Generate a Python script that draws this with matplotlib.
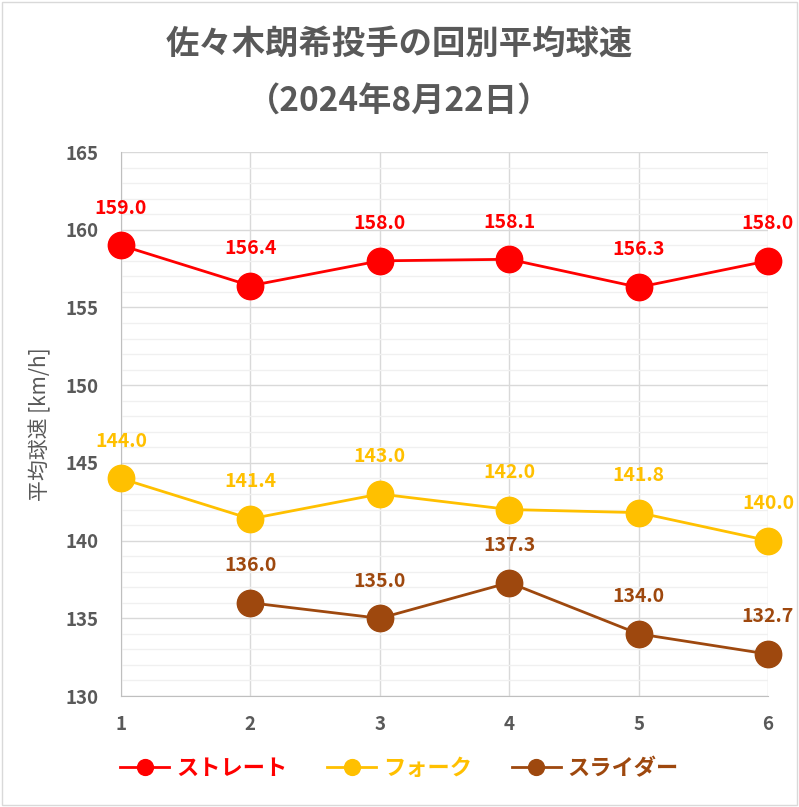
import matplotlib
matplotlib.use('Agg')
import matplotlib.pyplot as plt
from matplotlib.ticker import MultipleLocator
from matplotlib.patches import Rectangle

plt.rcParams['font.family'] = ['Noto Sans CJK JP', 'DejaVu Sans']

innings = [1, 2, 3, 4, 5, 6]
straight = [159.0, 156.4, 158.0, 158.1, 156.3, 158.0]
fork = [144.0, 141.4, 143.0, 142.0, 141.8, 140.0]
slider = [None, 136.0, 135.0, 137.3, 134.0, 132.7]
series_names = ['ストレート', 'フォーク', 'スライダー']
series_colors = ['#FF0000', '#FFC000', '#9E480E']

gray = '#595959'

fig = plt.figure(figsize=(7.99, 8.07), dpi=100)
ax = fig.add_axes([0.1514, 0.1375, 0.8098, 0.6741])

for name, vals, col in zip(series_names, [straight, fork, slider], series_colors):
    xs = [x for x, v in zip(innings, vals) if v is not None]
    ys = [v for v in vals if v is not None]
    ax.plot(xs, ys, color=col, lw=2, marker='o', ms=19, label=name, zorder=3, clip_on=False)
    for x, y in zip(xs, ys):
        ax.annotate('{0:.1f}'.format(y), (x, y), xytext=(0, 20), textcoords='offset points',
                    ha='center', va='bottom', color=col, fontsize=14, fontweight='bold')

ax.set_xlim(1, 6)
ax.set_ylim(130, 165)
ax.yaxis.set_major_locator(MultipleLocator(5))
ax.yaxis.set_minor_locator(MultipleLocator(1))
ax.set_xticks(innings)
ax.grid(which='major', color='#D9D9D9', lw=1)
ax.grid(which='minor', axis='y', color='#F0F0F0', lw=1)
ax.set_axisbelow(True)
for s in ['top', 'right']:
    ax.spines[s].set_visible(False)
ax.spines['left'].set_color('#BFBFBF')
ax.spines['bottom'].set_color('#BFBFBF')
ax.tick_params(which='both', length=0, colors=gray, labelsize=13.5, pad=14)
for lab in ax.get_xticklabels() + ax.get_yticklabels():
    lab.set_fontweight('bold')
ax.tick_params(axis='y', pad=16)
ax.set_ylabel('平均球速 [km/h]', color=gray, fontsize=15, labelpad=10)

fig.text(0.5, 0.945, '佐々木朗希投手の回別平均球速', ha='center', va='center',
         fontsize=24, fontweight='bold', color=gray)
fig.text(0.5, 0.874, '（2024年8月22日）', ha='center', va='center',
         fontsize=24, fontweight='bold', color=gray)

leg = fig.legend(loc='center', bbox_to_anchor=(0.5, 0.048), ncol=3, frameon=False,
                 markerscale=0.6, handlelength=2.2, handletextpad=0.3,
                 columnspacing=1.8, prop={'weight': 'bold', 'size': 16})
for text, col in zip(leg.get_texts(), series_colors):
    text.set_color(col)

fig.patches.append(Rectangle((0.002, 0.002), 0.996, 0.996, transform=fig.transFigure,
                             fill=False, edgecolor='#D9D9D9', lw=1))

fig.savefig('out.png', dpi=100)
